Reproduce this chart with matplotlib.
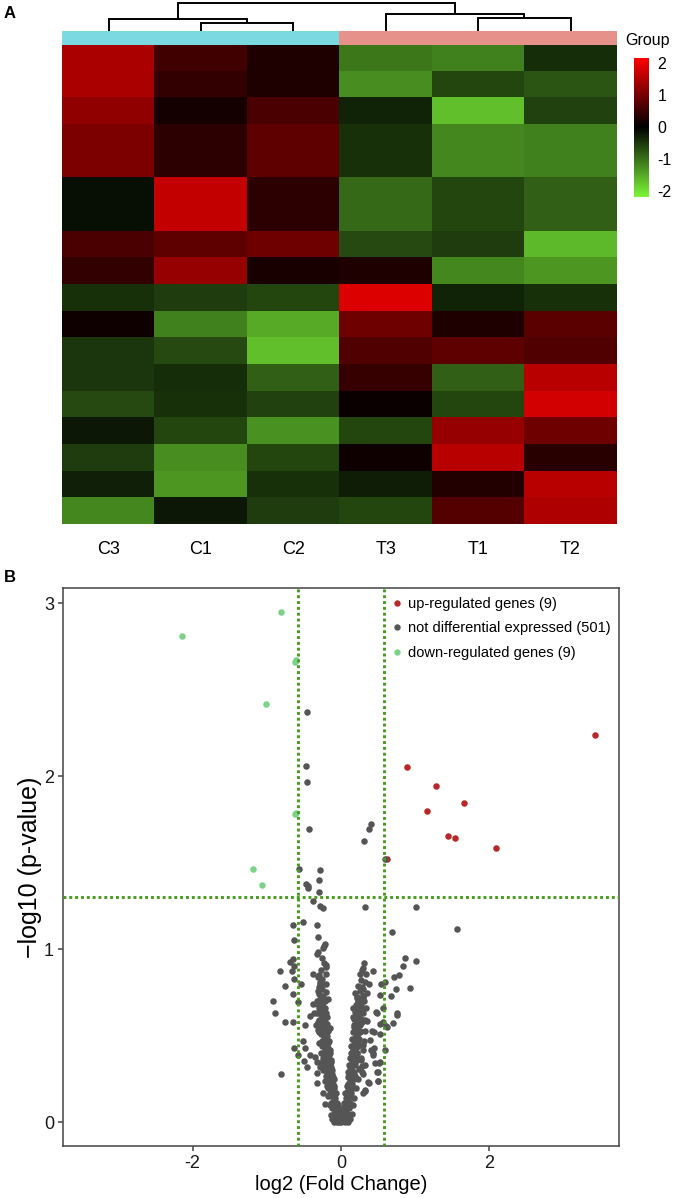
import numpy as np
import matplotlib
matplotlib.use("Agg")
import matplotlib.pyplot as plt
from matplotlib.colors import LinearSegmentedColormap, ListedColormap, Normalize
from matplotlib.lines import Line2D

plt.rcParams['font.family'] = ['Liberation Sans', 'DejaVu Sans']
plt.rcParams['axes.unicode_minus'] = False

# ---------------- heatmap data ----------------
samples = ["C3", "C1", "C2", "T3", "T1", "T2"]
group_codes = [0, 0, 0, 1, 1, 1]
col_C3 = [1.45, 1.45, 1.23, 1.06, 1.06, -0.13, -0.13, 0.64, 0.43, -0.44, 0.13, -0.49, -0.49, -0.66, -0.22, -0.53, -0.28, -1.20]
col_C1 = [0.55, 0.43, 0.17, 0.38, 0.38, 1.66, 1.66, 0.81, 1.28, -0.53, -1.15, -0.66, -0.40, -0.44, -0.62, -1.24, -1.33, -0.22]
col_C2 = [0.26, 0.26, 0.64, 0.81, 0.81, 0.38, 0.38, 0.94, 0.21, -0.62, -1.50, -1.68, -0.84, -0.58, -1.28, -0.62, -0.44, -0.53]
col_T3 = [-1.06, -1.24, -0.31, -0.44, -0.44, -0.93, -0.93, -0.66, 0.26, 1.87, 0.94, 0.68, 0.47, 0.09, -0.62, 0.13, -0.27, -0.62]
col_T1 = [-1.15, -0.62, -1.68, -1.20, -1.20, -0.62, -0.62, -0.53, -1.20, -0.31, 0.26, 0.81, -0.84, -0.62, 1.28, 1.57, 0.30, 0.72]
col_T2 = [-0.40, -0.75, -0.58, -1.15, -1.15, -0.84, -0.84, -1.64, -1.33, -0.44, 0.77, 0.68, 1.57, 1.79, 0.94, 0.34, 1.57, 1.49]
colorbar_ticks = [2, 1, 0, -1, -2]

# column dendrogram (scipy-style linkage over display positions 0..5)
dendro_links = [[1, 2, 0.27],
                [0, 6, 0.42],
                [4, 5, 0.45],
                [3, 8, 0.60],
                [7, 9, 1.00]]

# ---------------- volcano data ----------------
up_x = [0.890, 1.277, 1.655, 1.160, 1.439, 1.533, 2.095, 3.425, 0.625]
up_y = [2.056, 1.946, 1.844, 1.800, 1.657, 1.643, 1.584, 2.240, 1.520]
down_x = [-0.809, -2.148, -0.607, -1.007, -0.625, -1.187, -1.070, -0.615, -0.600]
down_y = [2.948, 2.811, 2.672, 2.420, 1.784, 1.466, 1.370, 2.660, 1.790]

ns_outer_x = [-0.459, -0.472, -0.459, -0.427, -0.562, -0.283, -0.301, -0.470, -0.440, -0.450, -0.300, -0.378, -0.283, -0.245,
              0.315, 0.378, 0.400, 0.596, 0.319, 1.016,
              -0.643, -0.512, -0.319, 0.683, 1.564, -0.315, -0.634, -0.234, -0.216, -0.247, -0.310, -0.328, -0.643, -0.692,
              -0.818, -0.661, -0.629, -0.207, -0.202, 0.863, 1.007, 0.836, 0.292, 0.342, 0.427, 0.710, 0.787, -0.378,
              -0.301, -0.207, -0.634, -0.751, -0.535, -0.283, -0.256, -0.207, 0.539, 0.593, 0.378, 0.283, 0.737, 0.930,
              -0.310, -0.207, 0.184, 0.216, 0.301, 0.351, 0.526, 0.674, -0.643, -0.917, -0.575, -0.373, -0.328, -0.256,
              -0.175, 0.157, 0.220, 0.256, 0.301, -0.885, 0.755, 0.755, 0.472, 0.571, -0.418, -0.364, -0.297, -0.220,
              -0.760, -0.643, -0.490, -0.337, -0.310, -0.202, -0.148, 0.166, 0.189, 0.243, 0.346, 0.526, 0.602, 0.706,
              0.571, 0.625, 0.422, 0.526, -0.517, -0.481, -0.629, -0.580, -0.499, -0.463, -0.813, -0.418, -0.346, -0.328,
              -0.238, -0.283, -0.319, -0.328, -0.238, -0.216, 0.445, 0.436, 0.593, 0.517, 0.494, 0.494, 0.373, 0.328,
              0.301, 0.288, 0.247, 0.301, 0.391, 0.301, 0.211, 0.265, 0.440, 0.480, 0.530, 0.460, 0.490, 0.500, 0.320,
              0.280, 0.370, 0.320, 0.410, 0.430]
ns_outer_y = [2.372, 2.061, 1.969, 1.697, 1.466, 1.458, 1.399, 1.375, 1.366, 1.352, 1.331, 1.280, 1.250, 1.237,
              1.628, 1.694, 1.724, 1.520, 1.242, 1.243,
              1.141, 1.158, 1.142, 1.098, 1.116, 1.071, 1.052, 1.020, 1.030, 1.008, 0.982, 0.971, 0.946, 0.927,
              0.876, 0.873, 0.906, 0.911, 0.895, 0.948, 0.932, 0.904, 0.894, 0.859, 0.875, 0.842, 0.850, 0.857,
              0.854, 0.859, 0.827, 0.788, 0.800, 0.813, 0.798, 0.800, 0.800, 0.813, 0.800, 0.780, 0.770, 0.774,
              0.760, 0.751, 0.749, 0.726, 0.732, 0.746, 0.736, 0.728, 0.740, 0.700, 0.694, 0.684, 0.684, 0.684,
              0.711, 0.659, 0.684, 0.697, 0.717, 0.630, 0.630, 0.618, 0.637, 0.661, 0.615, 0.630, 0.634, 0.634,
              0.582, 0.582, 0.563, 0.561, 0.534, 0.538, 0.545, 0.610, 0.592, 0.568, 0.587, 0.567, 0.557, 0.576,
              0.580, 0.553, 0.528, 0.509, 0.470, 0.430, 0.428, 0.390, 0.352, 0.322, 0.277, 0.390, 0.380, 0.350,
              0.373, 0.322, 0.283, 0.225, 0.168, 0.104, 0.428, 0.399, 0.416, 0.341, 0.293, 0.237, 0.229, 0.187,
              0.168, 0.326, 0.306, 0.279, 0.476, 0.447, 0.399, 0.360, 0.520, 0.630, 0.350, 0.340, 0.290, 0.240, 0.330,
              0.290, 0.235, 0.180, 0.420, 0.390]

ns_left_x = [-0.02, -0.04, -0.06, -0.08, -0.03, -0.07, -0.10, -0.05, -0.09, -0.12, -0.06, -0.11, -0.08, -0.13, -0.07,
             -0.10, -0.15, -0.12, -0.09, -0.16, -0.13, -0.10, -0.18, -0.15, -0.12, -0.19, -0.16, -0.13, -0.21, -0.18,
             -0.14, -0.22, -0.19, -0.16, -0.24, -0.20, -0.17, -0.25, -0.22, -0.18, -0.26, -0.23, -0.19, -0.27, -0.24,
             -0.20, -0.28, -0.25, -0.21, -0.29, -0.26, -0.22, -0.27, -0.23, -0.30, -0.25, -0.28, -0.24, -0.30, -0.26,
             -0.28, -0.25,
             -0.03, -0.01, -0.05, -0.09, -0.11, -0.04, -0.08, -0.13, -0.10, -0.14, -0.17, -0.11, -0.14, -0.20, -0.17,
             -0.15, -0.20, -0.17, -0.23, -0.21, -0.15, -0.24, -0.20, -0.22, -0.26, -0.23, -0.19, -0.27, -0.24, -0.20,
             -0.28, -0.26, -0.22, -0.12, -0.10, -0.06,
             -0.05, -0.07, -0.09, -0.11, -0.13, -0.14, -0.16, -0.18, -0.19, -0.21, -0.22, -0.24, -0.25, -0.21, -0.19,
             -0.17, -0.16, -0.15, -0.13, -0.12, -0.11, -0.10, -0.08, -0.06, -0.04, -0.03, -0.14, -0.15, -0.17, -0.19,
             -0.22, -0.24, -0.25, -0.27, -0.29, -0.30, -0.31, -0.32, -0.33, -0.29, -0.31, -0.27, -0.23, -0.26]
ns_left_y = [0.01, 0.02, 0.01, 0.03, 0.04, 0.06, 0.05, 0.08, 0.09, 0.08, 0.11, 0.12, 0.14, 0.15, 0.17,
             0.18, 0.17, 0.20, 0.21, 0.22, 0.24, 0.25, 0.25, 0.27, 0.28, 0.29, 0.31, 0.32, 0.32, 0.34,
             0.35, 0.36, 0.38, 0.39, 0.40, 0.41, 0.43, 0.44, 0.45, 0.46, 0.47, 0.49, 0.50, 0.51, 0.52,
             0.54, 0.55, 0.57, 0.58, 0.59, 0.61, 0.62, 0.65, 0.66, 0.66, 0.69, 0.71, 0.73, 0.74, 0.77,
             0.80, 0.83,
             0.00, 0.02, 0.03, 0.02, 0.03, 0.06, 0.07, 0.11, 0.13, 0.19, 0.20, 0.22, 0.26, 0.27, 0.29,
             0.33, 0.35, 0.37, 0.38, 0.43, 0.42, 0.46, 0.48, 0.51, 0.53, 0.56, 0.57, 0.58, 0.60, 0.63,
             0.63, 0.67, 0.70, 0.02, 0.00, 0.00,
             0.05, 0.10, 0.16, 0.19, 0.23, 0.29, 0.34, 0.40, 0.45, 0.50, 0.56, 0.63, 0.68, 0.66, 0.61,
             0.53, 0.47, 0.40, 0.36, 0.30, 0.26, 0.20, 0.12, 0.07, 0.10, 0.07, 0.04, 0.10, 0.15, 0.21,
             0.24, 0.30, 0.35, 0.40, 0.46, 0.52, 0.58, 0.63, 0.70, 0.78, 0.84, 0.88, 0.92, 0.95]

ns_right_x = [0.01, 0.03, 0.05, 0.07, 0.02, 0.06, 0.09, 0.04, 0.08, 0.11, 0.05, 0.10, 0.07, 0.12, 0.06,
              0.09, 0.14, 0.11, 0.08, 0.15, 0.12, 0.09, 0.17, 0.13, 0.10, 0.18, 0.14, 0.11, 0.19, 0.15,
              0.12, 0.21, 0.17, 0.13, 0.22, 0.18, 0.14, 0.23, 0.19, 0.15, 0.24, 0.20, 0.16, 0.25, 0.21,
              0.17, 0.26, 0.22, 0.18, 0.27, 0.23, 0.19, 0.28, 0.24, 0.20, 0.26, 0.22, 0.29, 0.25, 0.23,
              0.27, 0.25,
              0.00, 0.02, 0.04, 0.08, 0.10, 0.03, 0.07, 0.12, 0.09, 0.13, 0.16, 0.10, 0.13, 0.19, 0.16,
              0.14, 0.19, 0.16, 0.22, 0.20, 0.16, 0.23, 0.18, 0.22, 0.26, 0.23, 0.19, 0.28, 0.25, 0.21,
              0.29, 0.26, 0.23, 0.12, 0.10, 0.06,
              0.05, 0.07, 0.09, 0.11, 0.13, 0.15, 0.17, 0.18, 0.20, 0.21, 0.23, 0.24, 0.26, 0.27, 0.22,
              0.20, 0.18, 0.17, 0.16, 0.14, 0.12, 0.11, 0.10, 0.08, 0.06, 0.04, 0.03, 0.15, 0.16, 0.18,
              0.20, 0.23, 0.25, 0.27, 0.29, 0.31, 0.32, 0.33, 0.34, 0.31, 0.30, 0.33, 0.28, 0.31]
ns_right_y = [0.01, 0.02, 0.01, 0.03, 0.04, 0.06, 0.05, 0.08, 0.09, 0.08, 0.11, 0.12, 0.14, 0.15, 0.17,
              0.18, 0.17, 0.20, 0.21, 0.22, 0.24, 0.26, 0.25, 0.27, 0.29, 0.29, 0.31, 0.33, 0.33, 0.35,
              0.37, 0.36, 0.38, 0.40, 0.40, 0.42, 0.44, 0.44, 0.46, 0.48, 0.48, 0.50, 0.52, 0.52, 0.54,
              0.56, 0.56, 0.58, 0.60, 0.60, 0.62, 0.64, 0.65, 0.66, 0.68, 0.70, 0.72, 0.73, 0.76, 0.79,
              0.82, 0.86,
              0.00, 0.01, 0.03, 0.02, 0.03, 0.06, 0.07, 0.11, 0.13, 0.19, 0.20, 0.22, 0.26, 0.27, 0.29,
              0.33, 0.35, 0.37, 0.38, 0.43, 0.42, 0.46, 0.48, 0.51, 0.53, 0.56, 0.57, 0.58, 0.60, 0.63,
              0.63, 0.67, 0.70, 0.02, 0.00, 0.00,
              0.05, 0.10, 0.16, 0.19, 0.23, 0.29, 0.34, 0.40, 0.45, 0.50, 0.53, 0.58, 0.63, 0.68, 0.66,
              0.61, 0.55, 0.47, 0.40, 0.37, 0.31, 0.27, 0.20, 0.12, 0.07, 0.11, 0.08, 0.05, 0.10, 0.14,
              0.20, 0.25, 0.31, 0.37, 0.42, 0.47, 0.53, 0.59, 0.66, 0.70, 0.77, 0.81, 0.88, 0.92]

legend_labels = ["up-regulated genes (9)", "not differential expressed (501)", "down-regulated genes (9)"]
fc_cut = 0.585
p_cut = 1.301
x_ticks = [-2, 0, 2]
y_ticks = [0, 1, 2, 3]

# ---------------- figure ----------------
W, H = 677, 1198
fig = plt.figure(figsize=(W / 100, H / 100), dpi=100)


def ax_px(x0, y0, x1, y1):
    return fig.add_axes([x0 / W, 1 - y1 / H, (x1 - x0) / W, (y1 - y0) / H])


heat_cmap = LinearSegmentedColormap.from_list(
    "gbr", [(0.0, (124 / 255, 245 / 255, 55 / 255)), (0.5, (0, 0, 0)), (1.0, (1, 0, 0))])
norm = Normalize(vmin=-2.17, vmax=2.17)

M = np.column_stack([col_C3, col_C1, col_C2, col_T3, col_T1, col_T2])
HX0, HX1 = 62.3, 616.7

# heatmap
ax_h = ax_px(HX0, 45, HX1, 524.3)
im = ax_h.imshow(M, cmap=heat_cmap, norm=norm, aspect='auto', interpolation='nearest')
ax_h.set_xticks(range(len(samples)))
ax_h.set_xticklabels(samples, fontsize=13)
ax_h.set_yticks([])
ax_h.tick_params(axis='x', length=0, pad=12)
for s in ax_h.spines.values():
    s.set_visible(False)

# group annotation bar
ax_g = ax_px(HX0, 30.7, HX1, 45)
ax_g.imshow([group_codes], cmap=ListedColormap(['#7AD9E1', '#E6928A']), aspect='auto', interpolation='nearest')
ax_g.set_axis_off()

# dendrogram
ax_d = ax_px(HX0, 2.3, HX1, 30.7)
nodes = {i: (float(i), 0.0) for i in range(len(samples))}
for k, (a, b, h) in enumerate(dendro_links):
    xa, ha = nodes[a]
    xb, hb = nodes[b]
    ax_d.plot([xa, xa, xb, xb], [ha, h, h, hb], color='black', lw=1.4, clip_on=False,
              solid_capstyle='butt', solid_joinstyle='miter')
    nodes[len(samples) + k] = ((xa + xb) / 2, h)
ax_d.set_xlim(-0.5, len(samples) - 0.5)
ax_d.set_ylim(0, 1.0 * 28.4 / 27.4)
ax_d.set_axis_off()

# colorbar
ax_c = ax_px(634, 57.7, 649, 196.7)
cb = fig.colorbar(im, cax=ax_c, ticks=colorbar_ticks)
cb.outline.set_visible(False)
ax_c.tick_params(length=0, labelsize=11.5, pad=6)
fig.text(625 / W, 1 - 40 / H, "Group", fontsize=11.5, ha='left', va='center')

fig.text(4 / W, 1 - 14 / H, "A", fontsize=12, fontweight='bold', ha='left', va='center')
fig.text(4 / W, 1 - 577 / H, "B", fontsize=12, fontweight='bold', ha='left', va='center')

# volcano
VX0, VY0, VX1, VY1 = 62.7, 588.3, 619.3, 1146
ax_v = ax_px(VX0, VY0, VX1, VY1)
red, grey, green = '#B8282A', '#555555', '#7DD28A'
pt = 22
ax_v.scatter(up_x, up_y, s=pt, color=red, linewidths=0, zorder=2)
ax_v.scatter(down_x, down_y, s=pt, color=green, linewidths=0, zorder=2)
ax_v.scatter(ns_outer_x + ns_left_x + ns_right_x, ns_outer_y + ns_left_y + ns_right_y,
             s=pt, color=grey, linewidths=0, zorder=3)
line_col = '#489B1F'
dash = (0, (1.0, 1.0))
for xv in (-fc_cut, fc_cut):
    ax_v.axvline(xv, color=line_col, lw=2.1, ls=dash, zorder=4)
ax_v.axhline(p_cut, color=line_col, lw=2.1, ls=dash, zorder=4)
ax_v.set_xlim(-3.75, 3.75)
ax_v.set_ylim(-0.137, 3.087)
ax_v.set_xticks(x_ticks)
ax_v.set_yticks(y_ticks)
ax_v.set_xticklabels([str(v) for v in x_ticks])
ax_v.set_yticklabels([str(v) for v in y_ticks])
for s in ax_v.spines.values():
    s.set_color('#444444')
    s.set_linewidth(1.1)
ax_v.tick_params(length=3.3, width=1.1, color='#444444', labelsize=13, labelcolor='#1a1a1a', pad=3)

handles = [Line2D([], [], marker='o', ls='', color=c, markersize=4.6, markeredgewidth=0) for c in (red, grey, green)]
ax_v.legend(handles, legend_labels, loc='upper left', bbox_to_anchor=(0.593, 0.984), frameon=False,
            fontsize=10.5, handlelength=0.6, handletextpad=0.45, labelspacing=0.7, borderpad=0, borderaxespad=0)

fig.text((VX0 + VX1) / 2 / W, 1 - 1185 / H, "log2 (Fold Change)", fontsize=14.5, ha='center', va='center')
fig.text(30 / W, 1 - (VY0 + VY1) / 2 / H, "\u2212log10 (p-value)", fontsize=18, rotation=90,
         ha='center', va='center')

fig.savefig("out.png", dpi=100)
